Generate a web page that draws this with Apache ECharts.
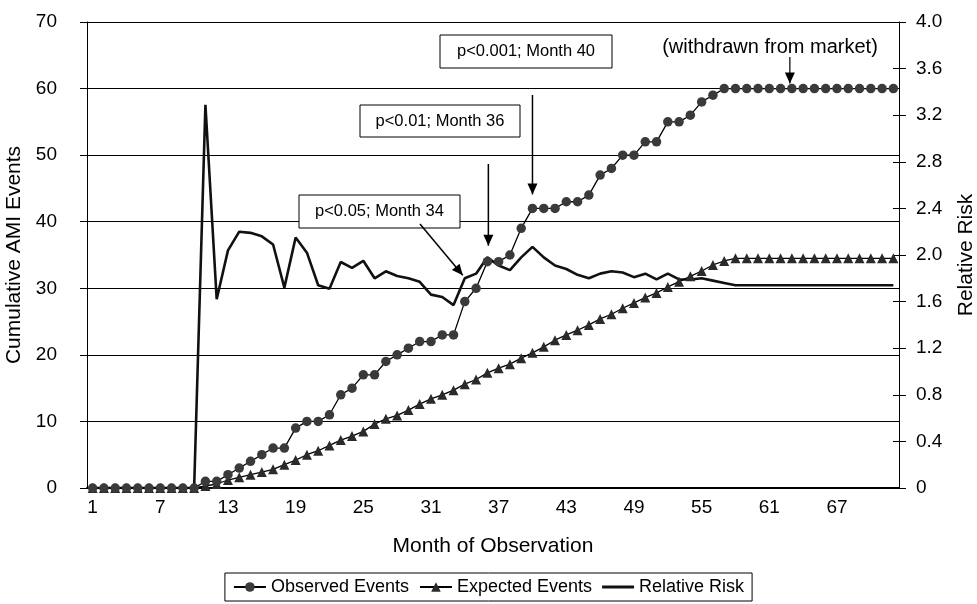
<!DOCTYPE html>
<html>
<head>
<meta charset="utf-8">
<script src="https://cdn.jsdelivr.net/npm/echarts@6/dist/echarts.min.js"></script>
<style>html,body{margin:0;padding:0;background:#fff}#c{width:977px;height:604px}</style>
</head>
<body>
<div id="c"></div>
<script>
const months = Array.from({length: 72}, (_, i) => String(i + 1));
const observedEvents = [0,0,0,0,0,0,0,0,0,0,
  1,1,2,3,4,5,6,6,9,10,
  10,11,14,15,17,17,19,20,21,22,
  22,23,23,28,30,34,34,35,39,42,
  42,42,43,43,44,47,48,50,50,52,
  52,55,55,56,58,59,60,60,60,60,
  60,60,60,60,60,60,60,60,60,60,60,60];
const expectedEvents = [0,0,0,0,0,0,0,0,0,0,
  0.3,0.6,1.2,1.6,2.0,2.4,2.8,3.5,4.2,5.0,
  5.6,6.4,7.2,7.8,8.5,9.6,10.4,10.9,11.7,12.6,
  13.4,14.0,14.7,15.6,16.3,17.3,18.0,18.6,19.5,20.3,
  21.2,22.2,23.0,23.7,24.5,25.4,26.1,27.0,27.8,28.6,
  29.3,30.2,31.0,31.8,32.6,33.5,34.1,34.5,34.5,34.5,
  34.5,34.5,34.5,34.5,34.5,34.5,34.5,34.5,34.5,34.5,34.5,34.5];
const relativeRisk = [0,0,0,0,0,0,0,0,0,0,
  3.29,1.62,2.04,2.20,2.19,2.16,2.09,1.72,2.15,2.02,
  1.74,1.71,1.94,1.89,1.95,1.80,1.86,1.82,1.80,1.77,
  1.66,1.64,1.57,1.80,1.84,1.98,1.91,1.87,1.98,2.07,
  1.98,1.91,1.88,1.83,1.80,1.84,1.86,1.85,1.81,1.84,
  1.79,1.84,1.79,1.79,1.80,1.78,1.76,1.74,1.74,1.74,
  1.74,1.74,1.74,1.74,1.74,1.74,1.74,1.74,1.74,1.74,1.74,1.74];
const leftTicks = {min: 0, max: 70, interval: 10};
const rightTicks = {min: 0, max: 4, interval: 0.4};
const notes = ['p<0.05; Month 34', 'p<0.01; Month 36', 'p<0.001; Month 40', '(withdrawn from market)'];
const noteMonths = ['34', '36', '40', '63'];

const FONT = 'Liberation Sans, Arial, sans-serif';
const chart = echarts.init(document.getElementById('c'), null, {renderer: 'canvas'});
const axisTxt = {color: '#000', fontFamily: FONT, fontSize: 19};
const titleTxt = {color: '#000', fontFamily: FONT, fontSize: 21};
chart.setOption({
  animation: false,
  backgroundColor: '#fff',
  grid: {left: 87, right: 78, top: 22, bottom: 116, containLabel: false, outerBoundsMode: 'none'},
  legend: {
    bottom: 3, left: 'center',
    borderColor: '#000', borderWidth: 1, padding: [5, 8],
    itemGap: 10, itemWidth: 32, itemHeight: 12,
    textStyle: {color: '#000', fontFamily: FONT, fontSize: 18},
    data: ['Observed Events', 'Expected Events',
      {name: 'Relative Risk', icon: 'path://M0,0L0.1,0M0,4.5L32,4.5L32,7.5L0,7.5ZM0,12L0.1,12'}]
  },
  xAxis: [{
    type: 'category', data: months, boundaryGap: true,
    name: 'Month of Observation', nameLocation: 'middle', nameGap: 48,
    nameTextStyle: titleTxt,
    axisLine: {lineStyle: {color: '#000', width: 1}},
    axisTick: {interval: 5, length: 5, lineStyle: {color: '#000'}},
    axisLabel: Object.assign({interval: 5, margin: 10}, axisTxt),
    splitLine: {show: false}
  }, {
    type: 'category', data: months, position: 'top',
    axisLine: {lineStyle: {color: '#000', width: 2}},
    axisTick: {show: false}, axisLabel: {show: false}, splitLine: {show: false}
  }],
  yAxis: [{
    type: 'value', min: leftTicks.min, max: leftTicks.max, interval: leftTicks.interval,
    name: 'Cumulative AMI Events', nameLocation: 'middle', nameGap: 54,
    nameTextStyle: titleTxt,
    axisLine: {show: true, lineStyle: {color: '#000'}},
    axisTick: {show: true, length: 7, lineStyle: {color: '#000'}},
    axisLabel: Object.assign({margin: 30}, axisTxt),
    splitLine: {show: true, lineStyle: {color: '#000', width: 1}}
  }, {
    type: 'value', position: 'right', min: rightTicks.min, max: rightTicks.max, interval: rightTicks.interval,
    name: 'Relative Risk', nameLocation: 'middle', nameGap: 57,
    nameTextStyle: titleTxt,
    axisLine: {show: true, lineStyle: {color: '#000'}},
    axisTick: {show: true, length: 7, lineStyle: {color: '#000'}},
    axisLabel: Object.assign({margin: 17, formatter: v => v === 0 ? '0' : v.toFixed(1)}, axisTxt),
    splitLine: {show: false}
  }, {
    type: 'value', position: 'right', min: rightTicks.min, max: rightTicks.max, interval: rightTicks.interval,
    axisLine: {show: false},
    axisTick: {show: true, inside: true, length: 6, lineStyle: {color: '#000'}},
    axisLabel: {show: false}, splitLine: {show: false}
  }],
  series: [{
    name: 'Relative Risk', type: 'line', yAxisIndex: 1, data: relativeRisk,
    symbol: 'none', lineStyle: {color: '#111', width: 2.6}, itemStyle: {color: '#111'}, z: 2
  }, {
    name: 'Expected Events', type: 'line', yAxisIndex: 0, data: expectedEvents,
    symbol: 'triangle', symbolSize: 10, showAllSymbol: true, lineStyle: {color: '#000', width: 1.3},
    itemStyle: {color: '#2a2a2a'}, z: 3
  }, {
    name: 'Observed Events', type: 'line', yAxisIndex: 0, data: observedEvents,
    symbol: 'circle', symbolSize: 9.5, showAllSymbol: true, lineStyle: {color: '#000', width: 1.3},
    itemStyle: {color: '#3a3a3a'}, z: 4
  }]
});

function px(month, value, axisIdx) {
  return chart.convertToPixel({xAxisIndex: 0, yAxisIndex: axisIdx}, [month, value]);
}
function arrowHead(x, y, dx, dy) {
  const len = Math.hypot(dx, dy), ux = dx / len, uy = dy / len;
  const bx = x - ux * 11, by = y - uy * 11;
  return {type: 'polygon', shape: {points: [[x, y], [bx - uy * 5, by + ux * 5], [bx + uy * 5, by - ux * 5]]},
    style: {fill: '#000'}, z: 20};
}
function box(x, y, w, h, text) {
  return [{type: 'rect', shape: {x: x, y: y, width: w, height: h}, style: {fill: '#fff', stroke: '#000', lineWidth: 1}, z: 18},
    {type: 'text', x: x + w / 2, y: y + h / 2, style: {text: text, fill: '#000', font: '16.5px ' + FONT, align: 'center', verticalAlign: 'middle'}, z: 19}];
}
const els = [];
els.push(...box(299, 195, 161, 33, notes[0]));
const t1 = px(noteMonths[0], relativeRisk[33], 1);
const s1 = [420, 224], e1 = [t1[0] - 2, t1[1] - 3];
els.push({type: 'line', shape: {x1: s1[0], y1: s1[1], x2: e1[0], y2: e1[1]}, style: {stroke: '#000', lineWidth: 1.5}, z: 20});
els.push(arrowHead(e1[0], e1[1], e1[0] - s1[0], e1[1] - s1[1]));
els.push(...box(360, 105, 160, 32, notes[1]));
const t2 = px(noteMonths[1], observedEvents[35], 0);
els.push({type: 'line', shape: {x1: t2[0] + 1, y1: 164, x2: t2[0] + 1, y2: t2[1] - 16}, style: {stroke: '#000', lineWidth: 1.5}, z: 20});
els.push(arrowHead(t2[0] + 1, t2[1] - 16, 0, 1));
els.push(...box(440, 35, 172, 33, notes[2]));
const t3 = px(noteMonths[2], observedEvents[39], 0);
els.push({type: 'line', shape: {x1: t3[0], y1: 95, x2: t3[0], y2: t3[1] - 14}, style: {stroke: '#000', lineWidth: 1.5}, z: 20});
els.push(arrowHead(t3[0], t3[1] - 14, 0, 1));
const t4 = px(noteMonths[3], observedEvents[62], 0);
els.push({type: 'text', x: 770, y: 47, style: {text: notes[3], fill: '#000', font: '20px ' + FONT, align: 'center', verticalAlign: 'middle'}, z: 19});
els.push({type: 'line', shape: {x1: t4[0] - 2, y1: 57, x2: t4[0] - 2, y2: t4[1] - 5}, style: {stroke: '#000', lineWidth: 1.2}, z: 20});
els.push(arrowHead(t4[0] - 2, t4[1] - 5, 0, 1));
chart.setOption({graphic: {elements: els}});
</script>
</body>
</html>
